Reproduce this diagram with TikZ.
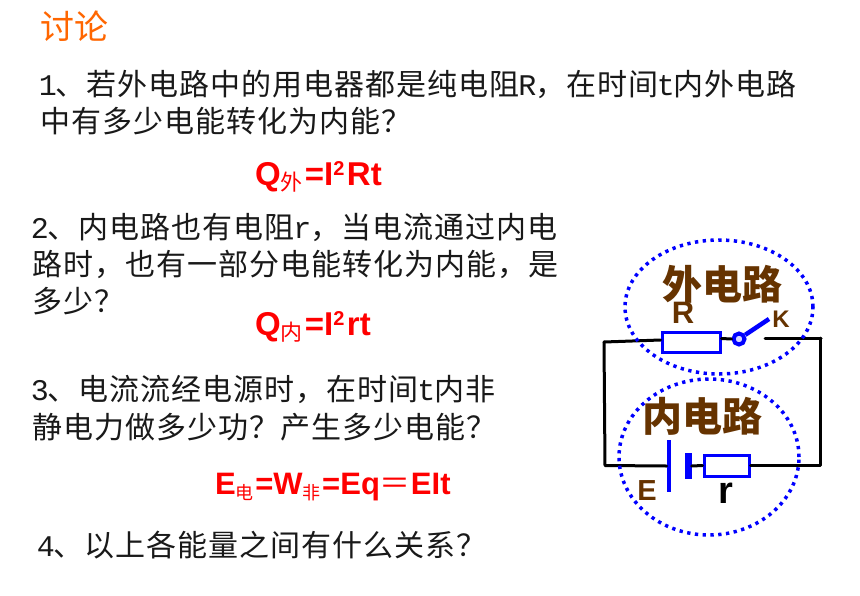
\documentclass[tikz,border=0pt]{standalone}
\usepackage{fontspec}
\setmainfont{Liberation Sans}
\newfontfamily\cjk{Noto Sans CJK SC}
\newfontfamily\cjksp{Noto Sans CJK SC}[LetterSpace=3.3]
\newfontfamily\lat{Liberation Mono}
\newcommand{\sz}[1]{\fontsize{#1}{#1}\selectfont}
\newcommand{\ltn}[1]{\makebox[15.5pt][c]{\lat\sz{30}#1}}
\newcommand{\cs}[1]{{\cjk\mdseries\sz{22}\raisebox{-5pt}{#1}}\kern2pt}
\newcommand{\csb}[1]{{\cjk\mdseries\sz{18}\raisebox{-5pt}{#1}}\kern1.5pt}
\newcommand{\up}[1]{\raisebox{10pt}{\sz{20}#1}\kern2.5pt}
\definecolor{ttl}{RGB}{255,102,0}
\definecolor{brn}{RGB}{102,51,0}
\tikzset{
  body/.style={anchor=base west,inner sep=0pt,font={\cjksp\sz{30}},text=black!90},
  formula/.style={anchor=base west,inner sep=0pt,font={\bfseries\sz{33}},text=red},
  heading/.style={anchor=center,inner sep=0pt,font={\cjk\bfseries\sz{40}},text=brn},
  wire/.style={draw=black,line width=3pt,line cap=round,line join=round},
  part/.style={draw=blue,line width=3pt,fill=white,inner sep=0pt,rectangle},
  halo/.style={draw=blue,line width=3.5pt,dash pattern=on 3.3pt off 4.5pt},
  tag/.style={anchor=center,inner sep=0pt,font={\bfseries\sz{30}}}
}
\begin{document}
\begin{tikzpicture}[x=1pt,y=-1pt]
\useasboundingbox[fill=white] (0,0) rectangle (860,595);
\node[anchor=center,inner sep=0pt,font={\cjk\sz{34}},text=ttl] (title) at (74,26) {讨论};
\node[body] (l1) at (40,95) {\ltn{1}、若外电路中的用电器都是纯电阻\ltn{R}，在时间\ltn{t}内外电路};
\node[body] (l2) at (40,132) {中有多少电能转化为内能？};
\node[formula] (q1) at (255,185) {Q\cs{外}=I\up{2}Rt};
\node[body] (l3) at (32,238) {\ltn{2}、内电路也有电阻\ltn{r}，当电流通过内电};
\node[body] (l4) at (32,275) {路时，也有一部分电能转化为内能，是};
\node[body] (l5) at (32,312) {多少？};
\node[formula] (q2) at (255,335) {Q\cs{内}=I\up{2}rt};
\node[body] (l6) at (32,400) {\ltn{3}、电流流经电源时，在时间\ltn{t}内非};
\node[body] (l7) at (32,438) {静电力做多少功？产生多少电能？};
\node[formula,font={\bfseries\sz{31}}] (q3) at (215,494) {E\csb{电}=W\csb{非}=Eq{\cjk\mdseries ＝}EIt};
\node[body] (l8) at (38,556) {\ltn{4}、以上各能量之间有什么关系？};

\coordinate (tl) at (604,342);
\coordinate (tr) at (821,338);
\coordinate (trd) at (820,338);
\coordinate (br) at (820,465.5);
\coordinate (bl) at (605,465.5);
\coordinate (gap) at (765,338);
\coordinate (lever) at (769,319);
\node[part,minimum width=58pt,minimum height=20pt] (Rbox) at (691,342) {};
\node[part,minimum width=45pt,minimum height=21pt] (rbox) at (726.5,465.5) {};
\node[inner sep=0pt,minimum width=4.5pt,minimum height=52pt,fill=blue] (plateL) at (669,466) {};
\node[inner sep=0pt,minimum width=7pt,minimum height=26pt,fill=blue] (plateS) at (688,466) {};
\node[circle,draw=blue,line width=4pt,fill=blue!15,minimum size=11pt,inner sep=0pt] (sw) at (739,339) {};

\draw[wire] (tl) -- ([yshift=2pt]Rbox.west);
\draw[wire] ([yshift=3.5pt]Rbox.east) -- (sw.west);
\draw[wire] (gap) -- (tr);
\draw[wire] (tl) -- (bl) -- (plateL.west);
\draw[wire] (trd) -- (br) -- (rbox.east);
\draw[wire] (plateS.east) -- (rbox.west);
\draw[draw=blue,line width=4.5pt] (sw) -- (lever);

\draw[halo] (719,307) ellipse [x radius=94pt,y radius=67pt];
\draw[halo] (709,457) ellipse [x radius=90pt,y radius=78pt];

\node[heading] (outer) at (722,284) {外电路};
\node[heading] (inner) at (702,416) {内电路};
\node[tag,text=brn,font={\bfseries\sz{31}}] (Rlab) at (683,313) {R};
\node[tag,text=brn,font={\bfseries\sz{24}}] (Klab) at (781,319) {K};
\node[tag,text=brn,font={\bfseries\sz{29}}] (Elab) at (647,491) {E};
\node[tag,text=black,font={\bfseries\sz{38}}] (rlab) at (726,493) {r};
\end{tikzpicture}
\end{document}
